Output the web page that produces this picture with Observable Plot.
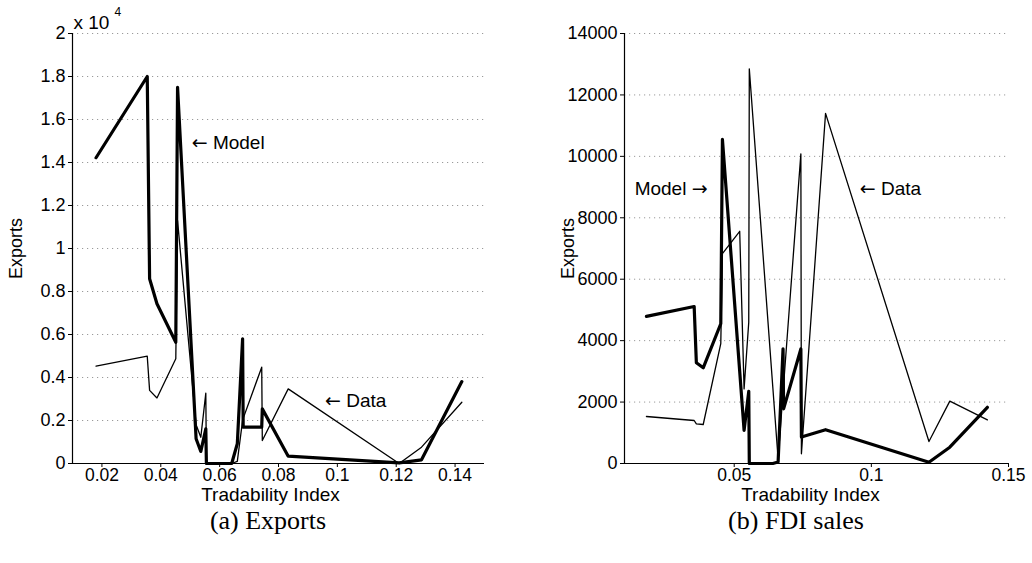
<!DOCTYPE html>
<html><head><meta charset="utf-8">
<script src="https://cdn.jsdelivr.net/npm/d3@7"></script>
<script src="https://cdn.jsdelivr.net/npm/@observablehq/plot@0.6"></script>
<style>
body{margin:0;background:#fff;width:1032px;height:563px;position:relative;overflow:hidden;font-family:"Liberation Sans",Arial,sans-serif}
#a{position:absolute;left:0;top:0}
#b{position:absolute;left:540px;top:0}
.cap{position:absolute;top:506px;font-family:"Liberation Serif",serif;font-size:26px;transform:translateX(-50%);white-space:nowrap;color:#000}
</style></head><body>
<div id="a"></div><div id="b"></div>
<div class="cap" style="left:268px">(a) Exports</div>
<div class="cap" style="left:796px">(b) FDI sales</div>
<script>
// Tradability index of each industry (shared x values)
const tradability = [0.0180, 0.0354, 0.0362, 0.0387, 0.0451, 0.0457, 0.0520, 0.0536, 0.0553, 0.0555,
                     0.0641, 0.0660, 0.0678, 0.0680, 0.0743, 0.0745, 0.0833, 0.1210, 0.1286, 0.1423];
// Panel (a): exports
const exportsModel = [14220, 18000, 8590, 7430, 5640, 17500, 1150, 560, 1610, 0,
                      0, 920, 5800, 1690, 1690, 2540, 340, 30, 170, 3810];
const exportsData  = [4530, 4990, 3400, 3050, 4870, 11300, 1800, 1220, 3270, 0,
                      0, 100, 2000, 2100, 4480, 1070, 3470, 0, 760, 2850];
// Panel (b): FDI sales
const fdiModel = [4790, 5110, 3280, 3115, 4550, 10550, 3000, 1080, 2350, 0,
                  0, 50, 3730, 1780, 3730, 860, 1100, 40, 530, 1830];
const fdiData  = [1530, 1400, 1290, 1270, 3900, 6830, 7560, 2430, 4600, 12850,
                  2450, 153, 2310, 2550, 10080, 316, 11400, 716, 2030, 1420];
// Tick labels
const xTicksA = [0.02, 0.04, 0.06, 0.08, 0.1, 0.12, 0.14];
const xTicksB = [0.05, 0.1, 0.15];
const yTicksA = [0, 2000, 4000, 6000, 8000, 10000, 12000, 14000, 16000, 18000, 20000];
const yTicksB = [0, 2000, 4000, 6000, 8000, 10000, 12000, 14000];
const xLabel = ["Tradability Index"];
const exponentLabel = ["x 10"], exponentPower = ["4"];
// Annotations
const notesA = [{x: 0.0505, y: 14930, text: "← Model", anchor: "start"},
                {x: 0.0958, y: 2930, text: "← Data", anchor: "start"}];
const notesB = [{x: 0.0403, y: 8950, text: "Model →", anchor: "end"},
                {x: 0.0958, y: 8950, text: "← Data", anchor: "start"}];

const font = '"Liberation Sans", Arial, sans-serif';
function panel({model, data, yMax, xTicks, yTicks, yFormat, notes, width, marginLeft, marginRight, exponent, labelDx}) {
  const rows = tradability.map((x, i) => ({x, model: model[i], data: data[i]}));
  const marks = [
    Plot.gridY(yTicks.filter(d => d > 0), {stroke: "#9a9a9a", strokeOpacity: 1, strokeWidth: 1, strokeDasharray: "1.2,3.8"}),
    Plot.axisX(xTicks, {tickFormat: d => String(+d.toFixed(2)), label: null, tickSize: 4, tickPadding: 1, fontSize: 17.5}),
    Plot.text(xLabel, {frameAnchor: "bottom", text: d => d, dx: labelDx, dy: 37, fontSize: 19, fill: "#000"}),
    Plot.axisY(yTicks, {tickFormat: yFormat, label: "Exports", labelAnchor: "center", labelArrow: "none",
      tickSize: 4, tickPadding: 3, labelOffset: 63, fontSize: 18}),
    Plot.ruleX([0.01], {stroke: "#000", strokeWidth: 1.2}),
    Plot.ruleY([0], {stroke: "#000", strokeWidth: 1.2}),
    Plot.line(rows, {x: "x", y: "data", stroke: "#000", strokeWidth: 1.3}),
    Plot.line(rows, {x: "x", y: "model", stroke: "#000", strokeWidth: 3.2}),
    Plot.text(notes.filter(d => d.anchor === "start"), {x: "x", y: "y", text: "text", textAnchor: "start", fontSize: 19, fill: "#000", className: "note"}),
    Plot.text(notes.filter(d => d.anchor === "end"), {x: "x", y: "y", text: "text", textAnchor: "end", fontSize: 19, fill: "#000", className: "note"})
  ];
  if (exponent) {
    marks.push(Plot.text(exponentLabel, {frameAnchor: "top-left", text: d => d, textAnchor: "start", dx: 1, dy: -18, fontSize: 19, fill: "#000"}));
    marks.push(Plot.text(exponentPower, {frameAnchor: "top-left", text: d => d, textAnchor: "start", dx: 42, dy: -26, fontSize: 12, fill: "#000"}));
  }
  const svg = Plot.plot({
    width, height: 500, marginTop: 33, marginBottom: 37, marginLeft, marginRight,
    style: {fontFamily: font, fontSize: "18px", color: "#000", background: "#fff", overflow: "visible"},
    x: {domain: [0.01, 0.15]},
    y: {domain: [0, yMax]},
    marks
  });
  // render the arrows of the annotations with a font whose arrows are long
  d3.select(svg).selectAll("g.note text").each(function () {
    const t = this.textContent;
    const el = d3.select(this).text(null);
    for (const part of t.split(/([←→])/)) {
      if (!part) continue;
      const ts = el.append("tspan").text(part);
      if (part === "←" || part === "→") ts.attr("font-family", '"DejaVu Sans"');
    }
  });
  return svg;
}

document.getElementById("a").append(panel({
  model: exportsModel, data: exportsData, yMax: 20000, xTicks: xTicksA, yTicks: yTicksA,
  yFormat: d => String(+(d / 1e4).toFixed(1)), notes: notesA, width: 500, marginLeft: 72, marginRight: 16, exponent: true, labelDx: -8
}));
document.getElementById("b").append(panel({
  model: fdiModel, data: fdiData, yMax: 14000, xTicks: xTicksB, yTicks: yTicksB,
  yFormat: d => String(d), notes: notesB, width: 492, marginLeft: 84, marginRight: 24, exponent: false, labelDx: -6
}));
</script>
</body></html>
